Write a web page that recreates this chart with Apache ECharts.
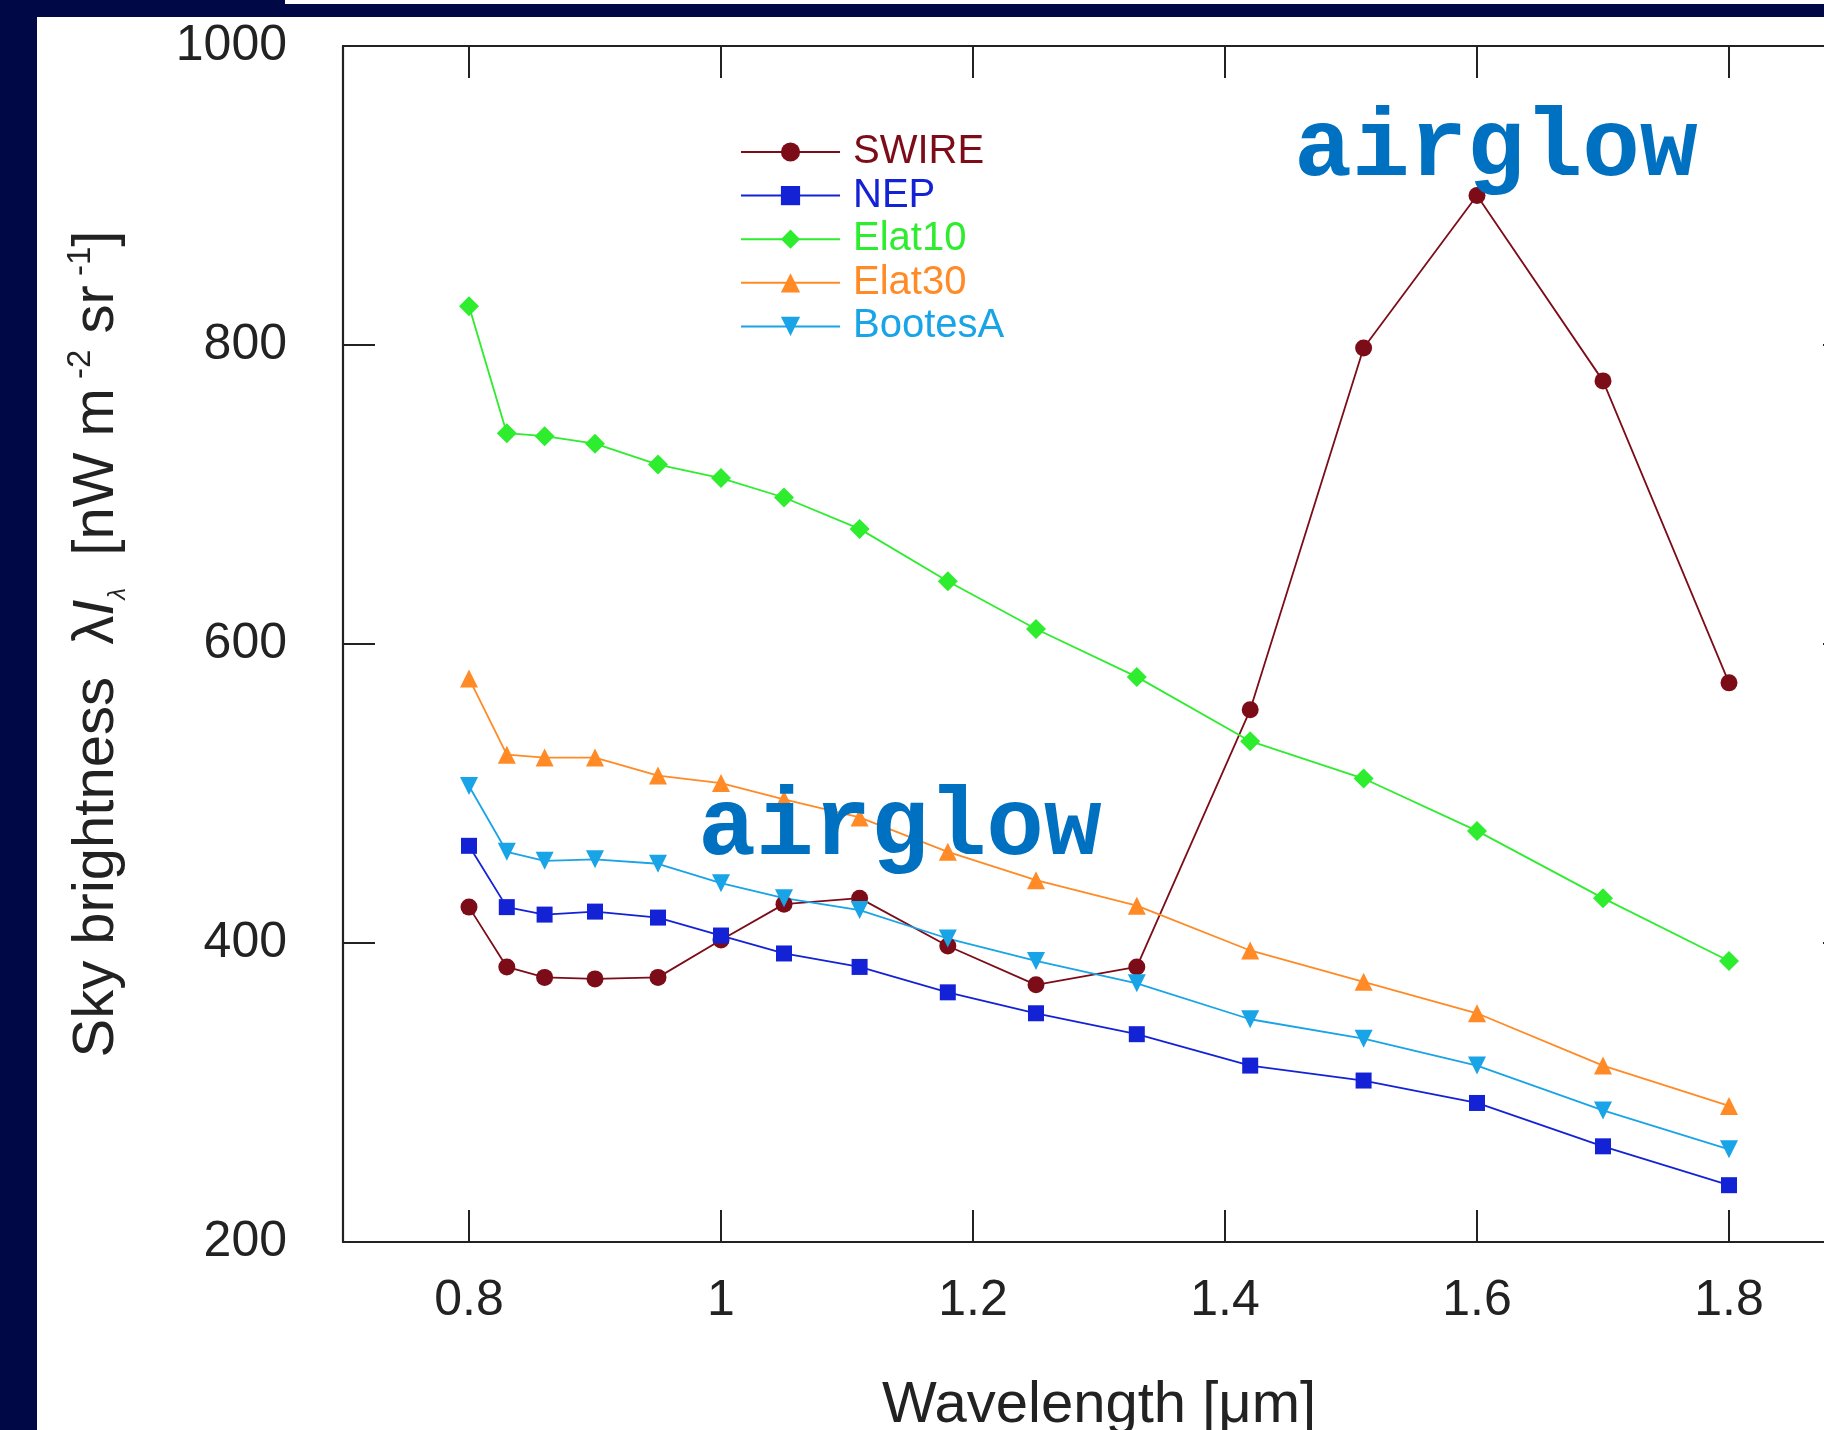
<!DOCTYPE html>
<html>
<head>
<meta charset="utf-8">
<script src="https://cdn.jsdelivr.net/npm/echarts@6/dist/echarts.min.js"></script>
<style>
  html, body { margin: 0; padding: 0; background: #ffffff; }
  #chart { width: 1824px; height: 1430px; }
</style>
</head>
<body>
<div id="chart"></div>
<script>
// Wavelength samples [µm]
const wavelengths = [0.8, 0.83, 0.86, 0.9, 0.95, 1.0, 1.05, 1.11, 1.18, 1.25, 1.33, 1.42, 1.51, 1.6, 1.7, 1.8];

// Sky brightness λIλ [nW m^-2 sr^-1] per field
const swire   = [424, 384, 377, 376, 377, 402, 426, 430, 398, 372, 384, 556, 798, 900, 776, 574];
const nep     = [465, 424, 419, 421, 417, 405, 393, 384, 367, 353, 339, 318, 308, 293, 264, 238];
const elat10  = [826, 741, 739, 734, 720, 711, 698, 677, 642, 610, 578, 535, 510, 475, 430, 388];
const elat30  = [577, 526, 524, 524, 512, 507, 496, 484, 461, 442, 425, 395, 374, 353, 318, 291];
const bootesA = [505, 461, 455, 456, 453, 440, 430, 422, 403, 388, 373, 349, 336, 318, 288, 262];

const seriesNames = ['SWIRE', 'NEP', 'Elat10', 'Elat30', 'BootesA'];

// Axis ticks
const xTickValues = [0.8, 1.0, 1.2, 1.4, 1.6, 1.8];
const xTickLabels = ['0.8', '1', '1.2', '1.4', '1.6', '1.8'];
const yTickLabels = ['200', '400', '600', '800', '1000'];

// Annotation anchors in data space: [wavelength, brightness]
const airglowHigh = [1.615, 930];
const airglowLow  = [1.142, 476];

const FONT = '"Liberation Sans", Arial, Helvetica, sans-serif';
const INK = '#222222';
const NAVY = '#000845';

const styles = [
  { color: '#7c0c18', symbol: 'circle',   size: 17, rotate: 0 },
  { color: '#1422d6', symbol: 'rect',     size: 16, rotate: 0 },
  { color: '#2eec2e', symbol: 'diamond',  size: 20, rotate: 0 },
  { color: '#ff8a26', symbol: 'triangle', size: 18, rotate: 0 },
  { color: '#18a4e6', symbol: 'triangle', size: 18, rotate: 180 }
];
const values = [swire, nep, elat10, elat30, bootesA];

const chart = echarts.init(document.getElementById('chart'), null, { renderer: 'canvas' });

const tickStyle = { show: true, inside: true, length: 32, lineStyle: { color: INK, width: 2 } };
const lineStyleAxis = { show: true, lineStyle: { color: INK, width: 2.2 } };

const xBase = {
  type: 'value', min: 0.7, max: 1.9,
  axisLine: lineStyleAxis,
  splitLine: { show: false },
  axisTick: Object.assign({ customValues: xTickValues }, tickStyle)
};
const yBase = {
  type: 'value', min: 200, max: 1000, interval: 200,
  axisLine: lineStyleAxis,
  splitLine: { show: false },
  axisTick: tickStyle
};

chart.setOption({
  backgroundColor: '#ffffff',
  animation: false,
  grid: { left: 343, top: 46, width: 1512, height: 1196, outerBoundsMode: 'none', containLabel: false },
  legend: {
    orient: 'vertical',
    left: 735, top: 127,
    itemWidth: 99, itemHeight: 24, itemGap: 3.6,
    selectedMode: false,
    textStyle: { fontFamily: FONT, fontSize: 40, padding: [0, 0, 0, 8] },
    data: seriesNames.map((n, i) => ({ name: n, textStyle: { color: styles[i].color } }))
  },
  xAxis: [
    Object.assign({}, xBase, {
      position: 'bottom',
      name: 'Wavelength [\u03bcm]',
      nameLocation: 'middle',
      nameGap: 135,
      nameTextStyle: { fontFamily: FONT, fontSize: 58, color: INK },
      axisLabel: {
        customValues: xTickValues,
        margin: 34,
        fontFamily: FONT, fontSize: 50, color: INK,
        formatter: v => {
          const i = xTickValues.findIndex(t => Math.abs(t - v) < 1e-6);
          return i >= 0 ? xTickLabels[i] : '';
        }
      }
    }),
    Object.assign({}, xBase, { position: 'top', axisLabel: { show: false } })
  ],
  yAxis: [
    Object.assign({}, yBase, {
      position: 'left',
      name: '{t|Sky brightness  \u03bb}{i|I}{s|\u03bb}{t|  [nW m}{p| -2}{t| sr}{p| -1}{t|]}',
      nameLocation: 'middle',
      nameRotate: 90,
      nameGap: 213,
      nameTextStyle: {
        fontFamily: FONT, fontSize: 58, color: INK,
        rich: {
          t: { fontSize: 58, lineHeight: 66 },
          i: { fontSize: 58, fontStyle: 'italic' },
          s: { fontSize: 24, fontStyle: 'italic', verticalAlign: 'bottom' },
          p: { fontSize: 33, verticalAlign: 'top' }
        }
      },
      axisLabel: {
        margin: 56, fontFamily: FONT, fontSize: 50, color: INK,
        padding: [0, 0, 8, 0],
        formatter: v => yTickLabels[Math.round((v - 200) / 200)] || ''
      }
    }),
    Object.assign({}, yBase, { position: 'right', axisLabel: { show: false } })
  ],
  series: seriesNames.map((name, i) => ({
    name,
    type: 'line',
    xAxisIndex: 0,
    yAxisIndex: 0,
    data: wavelengths.map((w, k) => [w, values[i][k]]),
    symbol: styles[i].symbol,
    symbolSize: styles[i].size,
    symbolRotate: styles[i].rotate,
    showSymbol: true,
    lineStyle: { color: styles[i].color, width: 1.8 },
    itemStyle: { color: styles[i].color },
    emphasis: { disabled: true }
  }))
});

// Frame and annotations
const pHigh = chart.convertToPixel({ gridIndex: 0 }, airglowHigh);
const pLow = chart.convertToPixel({ gridIndex: 0 }, airglowLow);
const annotationFont = 'bold 96px "Liberation Mono", "Courier New", monospace';

chart.setOption({
  graphic: [
    { type: 'rect', z: -100, silent: true, shape: { x: 0, y: 0, width: 37, height: 1430 }, style: { fill: NAVY } },
    { type: 'rect', z: -100, silent: true, shape: { x: 0, y: 0, width: 1824, height: 17 }, style: { fill: NAVY } },
    { type: 'rect', z: -99, silent: true, shape: { x: 285, y: 0, width: 1539, height: 4 }, style: { fill: '#ffffff' } },
    { type: 'text', z: 100, silent: true, x: pHigh[0], y: pHigh[1],
      style: { text: 'airglow', font: annotationFont, fill: '#0070c0', align: 'center', verticalAlign: 'middle' } },
    { type: 'text', z: 100, silent: true, x: pLow[0], y: pLow[1],
      style: { text: 'airglow', font: annotationFont, fill: '#0070c0', align: 'center', verticalAlign: 'middle' } }
  ]
});
</script>
</body>
</html>
